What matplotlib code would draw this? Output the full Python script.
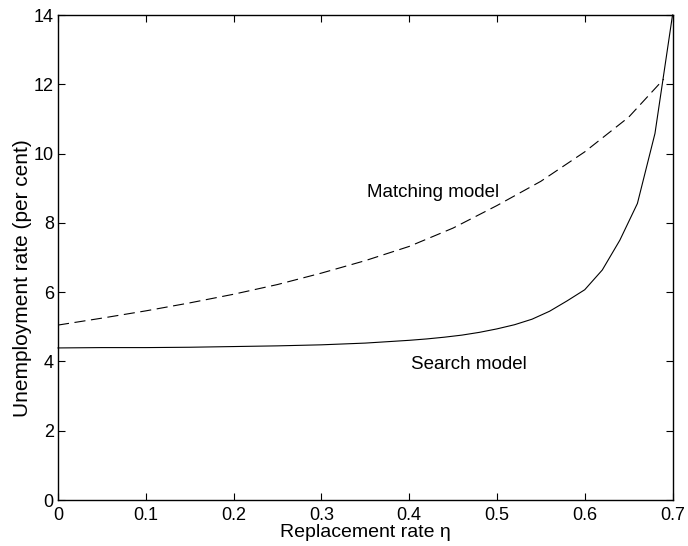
import numpy as np
import matplotlib
matplotlib.use('Agg')
import matplotlib.pyplot as plt

plt.rcParams['font.family'] = ['Liberation Sans', 'DejaVu Sans']
plt.rcParams['font.size'] = 13.5

# replacement rate grid and the two model curves
eta_search = [0.0, 0.05, 0.1, 0.15, 0.2, 0.25, 0.3, 0.35, 0.4, 0.42, 0.44, 0.46,
              0.48, 0.5, 0.52, 0.54, 0.56, 0.58, 0.6, 0.62, 0.64, 0.66, 0.68, 0.7]
u_search = [4.39, 4.40, 4.40, 4.41, 4.43, 4.45, 4.48, 4.53, 4.61, 4.65, 4.70, 4.76,
            4.84, 4.94, 5.06, 5.22, 5.45, 5.75, 6.07, 6.64, 7.50, 8.56, 10.58, 14.0]

eta_match = [0.0, 0.05, 0.1, 0.15, 0.2, 0.25, 0.3, 0.35, 0.4, 0.45, 0.5,
             0.55, 0.6, 0.65, 0.69]
u_match = [5.05, 5.25, 5.46, 5.69, 5.94, 6.22, 6.55, 6.91, 7.32, 7.85, 8.50,
           9.20, 10.05, 11.05, 12.15]

xticks = [0, 0.1, 0.2, 0.3, 0.4, 0.5, 0.6, 0.7]
xticklabels = ['0', '0.1', '0.2', '0.3', '0.4', '0.5', '0.6', '0.7']
yticks = [0, 2, 4, 6, 8, 10, 12, 14]

fig = plt.figure(figsize=(6.88, 5.46), dpi=100)
ax = fig.add_axes([0.0843, 0.0842, 0.8932, 0.8883])

ax.plot(eta_search, u_search, color='black', lw=0.8, clip_on=False)
ax.plot(eta_match, u_match, color='black', lw=0.8, linestyle=(0, (10, 5)))

ax.text(0.352, 8.76, 'Matching model', va='baseline', ha='left')
ax.text(0.4026, 3.79, 'Search model', va='baseline', ha='left')

ax.set_xlim(0, 0.7)
ax.set_ylim(0, 14)
ax.set_xticks(xticks)
ax.set_xticklabels(xticklabels)
ax.set_yticks(yticks)
ax.tick_params(direction='in', top=True, right=True, length=5, width=0.8,
               labelsize=13)
ax.tick_params(axis='x', pad=5)
ax.tick_params(axis='y', pad=3)
for s in ax.spines.values():
    s.set_linewidth(1.0)

ax.set_xlabel('Replacement rate \u03b7', fontsize=14, labelpad=0)
ax.set_ylabel('Unemployment rate (per cent)', fontsize=15)
ax.yaxis.set_label_coords(-0.042, 0.458)

fig.savefig('out.png', dpi=100)
